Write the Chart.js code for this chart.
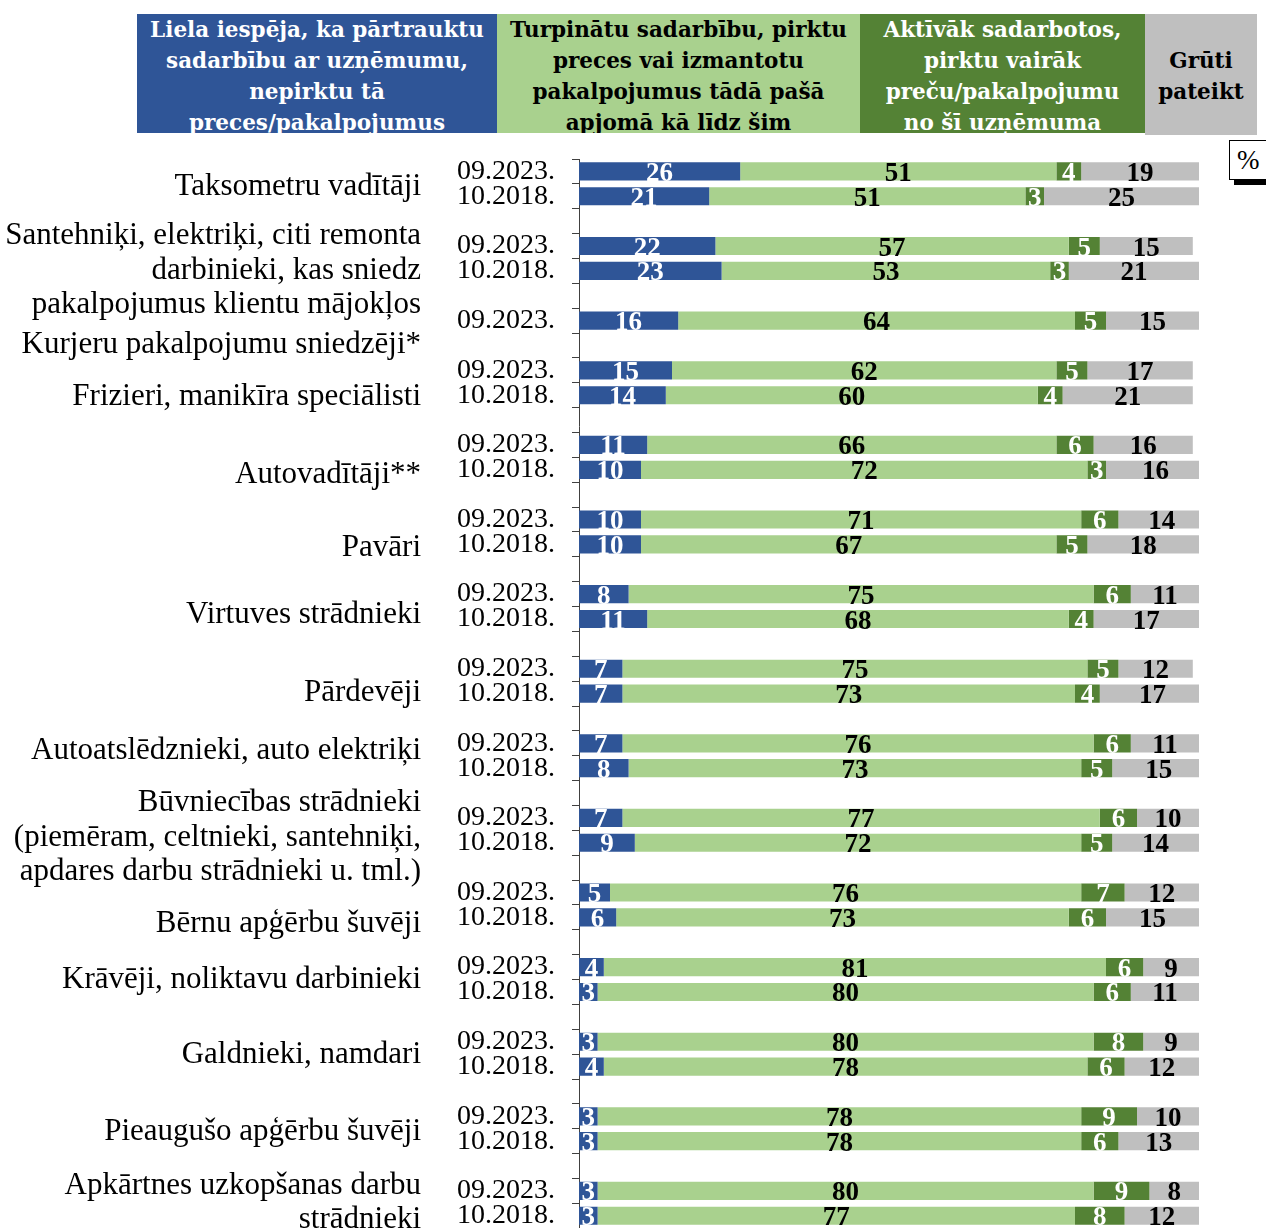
<!DOCTYPE html>
<html lang="lv">
<head>
<meta charset="utf-8">
<title>Sadarbības turpināšana</title>
<script src="https://cdn.jsdelivr.net/npm/chart.js@4.4.1/dist/chart.umd.min.js"></script>
<style>
  body { margin: 0; background: #fff; }
  #wrap { position: relative; width: 1266px; height: 1228px; overflow: hidden; }
  #plot { position: absolute; left: 0; top: 0; width: 1266px; height: 1262px; }
  #legend .box {
    position: absolute; box-sizing: border-box; overflow: hidden;
    font-family: "DejaVu Serif", serif; font-weight: bold; font-size: 21.5px;
    line-height: 31px; text-align: center; padding-top: 0;
  }
  #pct {
    position: absolute; left: 1229px; top: 140px; width: 60px; height: 40px;
    box-sizing: border-box; border: 1px solid #000; background: #fff;
    font-family: "Liberation Serif", serif; font-size: 27px; line-height: 38px;
    padding-left: 7px;
  }
  #pct::after {
    content: ""; position: absolute; left: 4px; right: 0; bottom: -6px; height: 5px; background: #000;
  }
</style>
</head>
<body>
<div id="wrap">
  <div id="plot"><canvas id="chart"></canvas></div>
  <div id="legend"></div>
  <div id="pct">%</div>
</div>
<script>
// groups (categories), top to bottom
const groups = [
  'Taksometru vadītāji',
  'Santehniķi, elektriķi, citi remonta\ndarbinieki, kas sniedz\npakalpojumus klientu mājokļos',
  'Kurjeru pakalpojumu sniedzēji*',
  'Frizieri, manikīra speciālisti',
  'Autovadītāji**',
  'Pavāri',
  'Virtuves strādnieki',
  'Pārdevēji',
  'Autoatslēdznieki, auto elektriķi',
  'Būvniecības strādnieki\n(piemēram, celtnieki, santehniķi,\napdares darbu strādnieki u. tml.)',
  'Bērnu apģērbu šuvēji',
  'Krāvēji, noliktavu darbinieki',
  'Galdnieki, namdari',
  'Pieaugušo apģērbu šuvēji',
  'Apkārtnes uzkopšanas darbu\nstrādnieki'
];
const periods = ['09.2023.', '10.2018.'];

const seriesNames = [
  ['Liela iespēja, ka pārtrauktu', 'sadarbību ar uzņēmumu,', 'nepirktu tā', 'preces/pakalpojumus'],
  ['Turpinātu sadarbību, pirktu', 'preces vai izmantotu', 'pakalpojumus tādā pašā', 'apjomā kā līdz šim'],
  ['Aktīvāk sadarbotos,', 'pirktu vairāk', 'preču/pakalpojumu', 'no šī uzņēmuma'],
  ['Grūti', 'pateikt']
];

// values, %, one per group
const stop2023 = [26, 22, 16, 15, 11, 10, 8, 7, 7, 7, 5, 4, 3, 3, 3];
const stop2018 = [21, 23, null, 14, 10, 10, 11, 7, 8, 9, 6, 3, 4, 3, 3];
const same2023 = [51, 57, 64, 62, 66, 71, 75, 75, 76, 77, 76, 81, 80, 78, 80];
const same2018 = [51, 53, null, 60, 72, 67, 68, 73, 73, 72, 73, 80, 78, 78, 77];
const more2023 = [4, 5, 5, 5, 6, 6, 6, 5, 6, 6, 7, 6, 8, 9, 9];
const more2018 = [3, 3, null, 4, 3, 5, 4, 4, 5, 5, 6, 6, 6, 6, 8];
const hard2023 = [19, 15, 15, 17, 16, 14, 11, 12, 11, 10, 12, 9, 9, 10, 8];
const hard2018 = [25, 21, null, 21, 16, 18, 17, 17, 15, 14, 15, 11, 12, 13, 12];

const colors = ['#2F5597', '#A9D18E', '#548235', '#BFBFBF'];
const labelColors = ['#fff', '#000', '#fff', '#000'];

// where the group name sits, in rows below the group's first bar
const nameShift = [0.55, 0.92, 0.88, 1.0, 1.12, 1.05, 0.76, 0.88, 0.24, 0.72, 1.2, 0.44, 0.44, 0.56, 0.4];

// build rows: 2023, 2018 (if any), then an empty spacer row
const rowLabels = [];
const rowVals = [[], [], [], []];
const groupStart = [];
const byYear = [[stop2023, same2023, more2023, hard2023], [stop2018, same2018, more2018, hard2018]];
groups.forEach((g, i) => {
  groupStart.push(rowLabels.length);
  periods.forEach((p, k) => {
    if (byYear[k][0][i] == null) return;
    rowLabels.push(p);
    byYear[k].forEach((arr, s) => rowVals[s].push(arr[i]));
  });
  if (i < groups.length - 1) {
    rowLabels.push('');
    rowVals.forEach(v => v.push(null));
  }
});

const serif = '"Liberation Serif", serif';

const valueLabels = {
  id: 'valueLabels',
  afterDatasetsDraw(chart) {
    const ctx = chart.ctx;
    ctx.save();
    ctx.font = 'bold 27px ' + serif;
    ctx.textAlign = 'center';
    ctx.textBaseline = 'alphabetic';
    chart.data.datasets.forEach((ds, di) => {
      chart.getDatasetMeta(di).data.forEach((bar, i) => {
        const v = ds.data[i];
        if (v == null) return;
        ctx.fillStyle = labelColors[di];
        ctx.fillText(String(v), (bar.x + bar.base) / 2, bar.y + 9.5);
      });
    });
    ctx.restore();
  }
};

const groupNames = {
  id: 'groupNames',
  afterDraw(chart) {
    const ctx = chart.ctx;
    const y = chart.scales.y;
    const lh = 34.5;
    ctx.save();
    ctx.font = '31px ' + serif;
    ctx.fillStyle = '#000';
    ctx.textAlign = 'right';
    ctx.textBaseline = 'alphabetic';
    groups.forEach((g, i) => {
      const lines = g.split('\n');
      const cy = y.getPixelForValue(groupStart[i] + nameShift[i]);
      lines.forEach((ln, k) => {
        ctx.fillText(ln, 421, cy + (k - (lines.length - 1) / 2) * lh + 10);
      });
    });
    ctx.restore();
  }
};

const chart = new Chart(document.getElementById('chart'), {
  type: 'bar',
  data: {
    labels: rowLabels,
    datasets: seriesNames.map((name, s) => ({
      label: name.join(' '),
      data: rowVals[s],
      backgroundColor: colors[s],
      borderWidth: 0,
      categoryPercentage: 1,
      barPercentage: 0.73
    }))
  },
  options: {
    indexAxis: 'y',
    responsive: true,
    maintainAspectRatio: false,
    animation: false,
    layout: { padding: { left: 0, top: 159, right: 67, bottom: 0 } },
    plugins: { legend: { display: false }, tooltip: { enabled: false } },
    scales: {
      x: { stacked: true, min: 0, max: 100, display: false },
      y: {
        stacked: true,
        afterFit(scale) { scale.width = 579; },
        border: { display: true, color: '#404040', width: 1 },
        grid: { drawOnChartArea: false, drawTicks: true, tickLength: 7, color: '#404040', offset: true },
        ticks: {
          autoSkip: false,
          padding: 17,
          color: '#000',
          font: { family: serif, size: 28 }
        }
      }
    }
  },
  plugins: [valueLabels, groupNames]
});

// header legend boxes built from the datasets
const boxSpots = [
  { left: 137, width: 360, top: 14, height: 119, pad: 0 },
  { left: 497, width: 363, top: 14, height: 119, pad: 0 },
  { left: 860, width: 285, top: 14, height: 119, pad: 0 },
  { left: 1145, width: 112, top: 14, height: 121, pad: 31 }
];
const legendEl = document.getElementById('legend');
chart.data.datasets.forEach((ds, s) => {
  const b = boxSpots[s];
  const div = document.createElement('div');
  div.className = 'box';
  div.style.left = b.left + 'px';
  div.style.top = b.top + 'px';
  div.style.width = b.width + 'px';
  div.style.height = b.height + 'px';
  div.style.paddingTop = b.pad + 'px';
  div.style.background = ds.backgroundColor;
  div.style.color = labelColors[s];
  div.innerHTML = seriesNames[s].join('<br>');
  legendEl.appendChild(div);
});
</script>
</body>
</html>
